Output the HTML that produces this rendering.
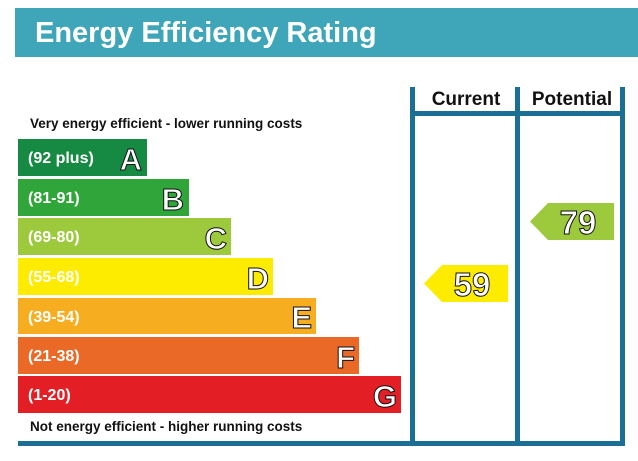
<!DOCTYPE html>
<html><head><meta charset="utf-8"><style>body{margin:0;background:#fff}</style></head><body>
<svg width="638" height="456" xmlns="http://www.w3.org/2000/svg" font-family="Liberation Sans, Arial, sans-serif" font-weight="bold">
<rect x="0" y="0" width="638" height="456" fill="#fff"/>
<rect x="15" y="8" width="623" height="49" fill="#3ea6b8"/>
<text x="35" y="42" font-size="29" fill="#fff">Energy Efficiency Rating</text>
<g fill="#1b6f95">
<rect x="410" y="87" width="5" height="358"/>
<rect x="515" y="87" width="5" height="358"/>
<rect x="620" y="87" width="5" height="358"/>
<rect x="410" y="111" width="215" height="5"/>
<rect x="18" y="441" width="607" height="5"/>
</g>
<text x="466" y="105" font-size="19" text-anchor="middle" fill="#111">Current</text>
<text x="572" y="105" font-size="19" text-anchor="middle" fill="#111">Potential</text>
<text x="30" y="128" font-size="13.5" fill="#111">Very energy efficient - lower running costs</text>
<text x="30" y="431" font-size="13.5" fill="#111">Not energy efficient - higher running costs</text>
<g font-size="16" fill="#fff">
<rect x="18" y="139" width="129" height="37" fill="#168a42"/><text x="28" y="163">(92 plus)</text>
<rect x="18" y="179" width="171" height="37" fill="#2fa53a"/><text x="28" y="203">(81-91)</text>
<rect x="18" y="218" width="213" height="37" fill="#9cca3c"/><text x="28" y="242">(69-80)</text>
<rect x="18" y="258" width="255" height="37" fill="#fdec00"/><text x="28" y="282">(55-68)</text>
<rect x="18" y="298" width="298" height="36" fill="#f6ae20"/><text x="28" y="322">(39-54)</text>
<rect x="18" y="337" width="341" height="37" fill="#eb6926"/><text x="28" y="361">(21-38)</text>
<rect x="18" y="376" width="383" height="37" fill="#e31e25"/><text x="28" y="400">(1-20)</text>
</g>
<g font-size="31" font-weight="bold" fill="#fff" stroke="#111" stroke-width="1" text-anchor="end">
<text x="142" y="170">A</text>
<text x="184" y="210">B</text>
<text x="227" y="249">C</text>
<text x="269" y="289">D</text>
<text x="312" y="328">E</text>
<text x="355" y="368">F</text>
<text x="397" y="407">G</text>
</g>
<polygon points="424,283.5 442,265 508,265 508,302 442,302" fill="#fdec00"/>
<polygon points="530,221.5 548,203 614,203 614,240 548,240" fill="#9cca3c"/>
<g font-size="33" font-weight="bold" fill="#fff" stroke="#111" stroke-width="1" text-anchor="middle">
<text x="472" y="296">59</text>
<text x="578" y="234">79</text>
</g>
</svg>
</body></html>
